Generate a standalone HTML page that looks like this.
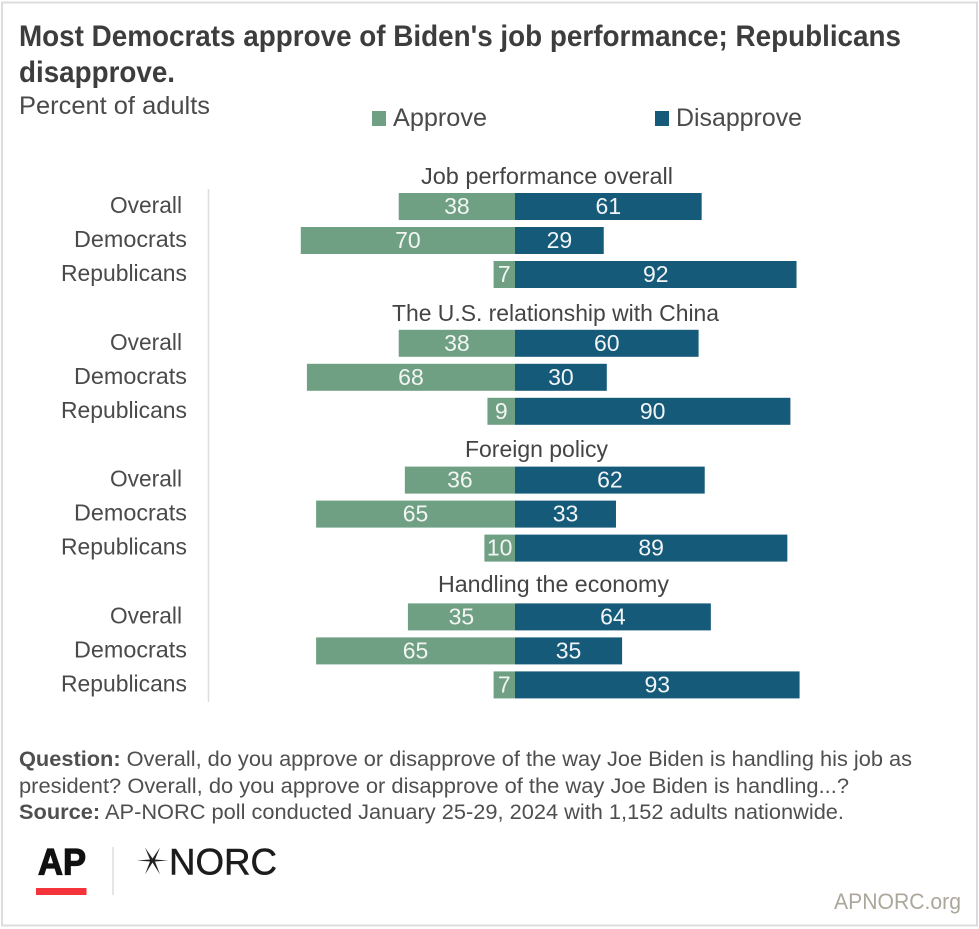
<!DOCTYPE html>
<html lang="en">
<head>
<meta charset="utf-8">
<title>Most Democrats approve of Biden's job performance; Republicans disapprove.</title>
<style>
html,body{margin:0;padding:0;background:#fff;}
svg{display:block;font-family:"Liberation Sans",Arial,sans-serif;}
</style>
</head>
<body>
<svg id="chart" width="979" height="929" viewBox="0 0 979 929" xmlns="http://www.w3.org/2000/svg">
  <rect x="2" y="2.5" width="975" height="923" fill="#fff" stroke="#dcdcdc" stroke-width="2"/>
  <text x="19" y="46" font-size="30" font-weight="700" fill="#3d3d3d" textLength="882" lengthAdjust="spacingAndGlyphs">Most Democrats approve of Biden's job performance; Republicans</text>
  <text x="19" y="82" font-size="30" font-weight="700" fill="#3d3d3d" textLength="156" lengthAdjust="spacingAndGlyphs">disapprove.</text>
  <text x="19" y="114" font-size="25" fill="#4a4a4a" textLength="191" lengthAdjust="spacingAndGlyphs">Percent of adults</text>

  <rect x="372" y="111" width="14" height="15" fill="#6fa084"/>
  <text x="393" y="126" font-size="25" fill="#4a4a4a" textLength="94" lengthAdjust="spacingAndGlyphs">Approve</text>
  <rect x="655" y="111" width="14" height="15" fill="#165a7a"/>
  <text x="676" y="126" font-size="25" fill="#4a4a4a" textLength="126" lengthAdjust="spacingAndGlyphs">Disapprove</text>

  <line x1="208.5" y1="189" x2="208.5" y2="702" stroke="#dedede" stroke-width="1.5"/>
  <g id="plot"></g>

  <text x="19" y="766" font-size="21" fill="#4f4f4f" textLength="893" lengthAdjust="spacingAndGlyphs"><tspan font-weight="700">Question:</tspan> Overall, do you approve or disapprove of the way Joe Biden is handling his job as</text>
  <text x="19" y="793" font-size="21" fill="#4f4f4f" textLength="830" lengthAdjust="spacingAndGlyphs">president? Overall, do you approve or disapprove of the way Joe Biden is handling...?</text>
  <text x="19" y="819" font-size="21" fill="#4f4f4f" textLength="825" lengthAdjust="spacingAndGlyphs"><tspan font-weight="700">Source:</tspan> AP-NORC poll conducted January 25-29, 2024 with 1,152 adults nationwide.</text>

  <g>
    <text x="38" y="874.5" font-size="37" font-weight="700" fill="#111" stroke="#111" stroke-width="1.2" textLength="48" lengthAdjust="spacingAndGlyphs">AP</text>
    <rect x="36" y="888" width="50.5" height="7" fill="#f5333a"/>
  </g>
  <line x1="113" y1="847" x2="113" y2="895" stroke="#dcdcd8" stroke-width="1.5"/>
  <g>
    <path d="M137 860.5 L150 859.5 L145 847.5 L152.5 858.5 L160 847.5 L155 859.5 L168 860.5 L155 861.5 L160 874.5 L152.5 862.5 L145 874.5 L150 861.5 Z" fill="#222"/>
    <text x="169" y="874.5" font-size="37" fill="#1c1c1c" stroke="#1c1c1c" stroke-width="0.5" textLength="108" lengthAdjust="spacingAndGlyphs">NORC</text>
  </g>
  <text x="834" y="909" font-size="22" fill="#aca79b" textLength="127" lengthAdjust="spacingAndGlyphs">APNORC.org</text>
</svg>
<script>
var groupTitles = ["Job performance overall", "The U.S. relationship with China", "Foreign policy", "Handling the economy"];
var rowLabels = ["Overall", "Democrats", "Republicans"];
var approveValues = [[38, 70, 7], [38, 68, 9], [36, 65, 10], [35, 65, 7]];
var disapproveValues = [[61, 29, 92], [60, 30, 90], [62, 33, 89], [64, 35, 93]];

var SVGNS = 'http://www.w3.org/2000/svg';
var plot = document.getElementById('plot');
var zeroX = 515;
var pxPerUnit = 3.06;
var firstRowTop = 193;
var groupStep = 136.8;
var rowStep = 34;
var barHeight = 27;
var layoutTitleLeft = [421, 392, 465, 438];
var layoutTitleWidth = [252, 327, 143, 231];
var layoutTitleBaseline = [184, 321, 457, 592];
var layoutLabelWidth = [72, 113, 126];

function xScale(v) { return zeroX + v * pxPerUnit; }
function rowTop(g, r) { return firstRowTop + g * groupStep + r * rowStep; }

function makeText(str, x, y, size, fill, anchor) {
  var t = document.createElementNS(SVGNS, 'text');
  t.setAttribute('x', x);
  t.setAttribute('y', y);
  t.setAttribute('font-size', size);
  t.setAttribute('fill', fill);
  t.setAttribute('text-anchor', anchor);
  t.textContent = str;
  plot.appendChild(t);
  return t;
}
function makeBar(x, y, w, fill) {
  var b = document.createElementNS(SVGNS, 'rect');
  b.setAttribute('x', x);
  b.setAttribute('y', y);
  b.setAttribute('width', w);
  b.setAttribute('height', barHeight);
  b.setAttribute('fill', fill);
  plot.appendChild(b);
  return b;
}

groupTitles.forEach(function (title, g) {
  var gt = makeText(title, layoutTitleLeft[g], layoutTitleBaseline[g], 23.5, '#444', 'start');
  gt.setAttribute('textLength', layoutTitleWidth[g]);
  gt.setAttribute('lengthAdjust', 'spacingAndGlyphs');
  
  

  rowLabels.forEach(function (label, r) {
    var top = rowTop(g, r);
    var midText = top + 20.5;
    var labelRight = r === 0 ? 182 : 187;
    var rl = makeText(label, labelRight - layoutLabelWidth[r], midText - 0.5, 23.5, '#4a4a4a', 'start');
    rl.setAttribute('textLength', layoutLabelWidth[r]);
    rl.setAttribute('lengthAdjust', 'spacingAndGlyphs');
    
    

    var a = approveValues[g][r];
    var d = disapproveValues[g][r];

    var ab = makeBar(xScale(-a), top, xScale(0) - xScale(-a), '#6fa084');
    
    

    var db = makeBar(xScale(0), top, xScale(d) - xScale(0), '#165a7a');
    
    

    var av = makeText(String(a), (xScale(-a) + xScale(0)) / 2, midText + 0.5, 23, '#f2f5f2', 'middle');
    
    

    var dv = makeText(String(d), (xScale(d) + xScale(0)) / 2, midText + 0.5, 23, '#f2f5f7', 'middle');
    
    
  });
});
</script>
</body>
</html>
